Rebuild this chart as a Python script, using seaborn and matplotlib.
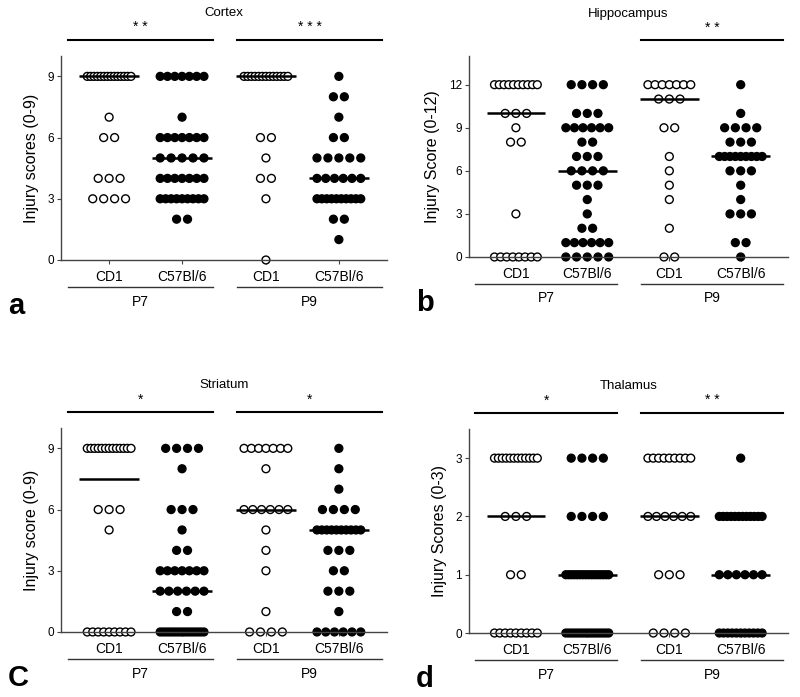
import numpy as np
import pandas as pd
import matplotlib
matplotlib.use('Agg')
import matplotlib.pyplot as plt
import seaborn as sns

groups = ['P7 CD1', 'P7 C57Bl/6', 'P9 CD1', 'P9 C57Bl/6']
tick_labels = ['CD1', 'C57Bl/6', 'CD1', 'C57Bl/6']
ages = ['P7', 'P9']

# number of animals at each score (list index = score)
cortex_p7_cd1 = [0, 0, 0, 4, 3, 0, 2, 1, 0, 14]
cortex_p7_c57 = [0, 0, 2, 9, 7, 5, 7, 1, 0, 7]
cortex_p9_cd1 = [1, 0, 0, 1, 2, 1, 2, 0, 0, 13]
cortex_p9_c57 = [0, 1, 2, 10, 6, 5, 2, 1, 2, 1]

hippo_p7_cd1 = [8, 0, 0, 1, 0, 0, 0, 0, 2, 1, 3, 0, 10]
hippo_p7_c57 = [5, 6, 2, 1, 1, 3, 4, 3, 2, 6, 3, 0, 4]
hippo_p9_cd1 = [2, 0, 1, 0, 1, 1, 1, 1, 0, 2, 0, 3, 7]
hippo_p9_c57 = [1, 2, 0, 3, 1, 1, 3, 9, 3, 4, 1, 0, 1]

striatum_p7_cd1 = [9, 0, 0, 0, 0, 1, 3, 0, 0, 13]
striatum_p7_c57 = [16, 2, 6, 7, 2, 1, 3, 0, 1, 4]
striatum_p9_cd1 = [4, 1, 0, 1, 1, 1, 6, 0, 1, 7]
striatum_p9_c57 = [6, 1, 3, 2, 3, 10, 4, 1, 1, 1]

thalamus_p7_cd1 = [9, 2, 3, 12]
thalamus_p7_c57 = [16, 16, 4, 4]
thalamus_p9_cd1 = [4, 3, 6, 9]
thalamus_p9_c57 = [11, 6, 12, 1]

plt.rcParams['font.family'] = ['Liberation Sans', 'DejaVu Sans']

xpos = [0, 1, 2.15, 3.15]


def expand(counts_list):
    rows = []
    for g, counts in zip(groups, counts_list):
        for score, n in enumerate(counts):
            rows += [(g, score)] * n
    df = pd.DataFrame(rows, columns=['group', 'score'])
    df['strain'] = df['group'].str.split(' ').str[1]
    # spread tied points sideways in rows, like a prism scatter dot plot
    off = np.zeros(len(df))
    for _, idx in df.groupby(['group', 'score']).groups.items():
        n = len(idx)
        if n > 1:
            step = min(0.15, 0.6 / (n - 1))
            off[np.asarray(idx)] = (np.arange(n) - (n - 1) / 2) * step
    df['x'] = df['group'].map(dict(zip(groups, xpos))) + off
    return df


panels = [
    dict(title='Cortex', counts=[cortex_p7_cd1, cortex_p7_c57, cortex_p9_cd1, cortex_p9_c57],
         ylim=10, yticks=[0, 3, 6, 9], ylabel='Injury scores (0-9)', stars=['* *', '* * *'],
         rect=[0.07625, 0.6270, 0.4075, 0.2927], letter='a'),
    dict(title='Hippocampus', counts=[hippo_p7_cd1, hippo_p7_c57, hippo_p9_cd1, hippo_p9_c57],
         ylim=14, yticks=[0, 3, 6, 9, 12], ylabel='Injury Score (0-12)', stars=[None, '* *'],
         rect=[0.586, 0.6313, 0.39875, 0.2884], letter='b'),
    dict(title='Striatum', counts=[striatum_p7_cd1, striatum_p7_c57, striatum_p9_cd1, striatum_p9_c57],
         ylim=10, yticks=[0, 3, 6, 9], ylabel='Injury score (0-9)', stars=['*', '*'],
         rect=[0.07625, 0.0933, 0.4075, 0.2927], letter='C'),
    dict(title='Thalamus', counts=[thalamus_p7_cd1, thalamus_p7_c57, thalamus_p9_cd1, thalamus_p9_c57],
         ylim=3.5, yticks=[0, 1, 2, 3], ylabel='Injury Scores (0-3)', stars=['*', '* *'],
         rect=[0.586, 0.0918, 0.39875, 0.2927], letter='d'),
]

fig = plt.figure(figsize=(8, 6.97), dpi=100)
spans = [(0.02, 0.465), (0.54, 0.985)]

for p in panels:
    ax = fig.add_axes(p['rect'])
    df = expand(p['counts'])
    sns.scatterplot(data=df, x='x', y='score', hue='strain',
                    palette={'CD1': 'white', 'C57Bl/6': 'black'},
                    edgecolor='black', linewidth=1.0, s=32, legend=False,
                    clip_on=False, zorder=2, ax=ax)
    med = df.groupby('group', sort=False)['score'].median().reindex(groups)
    ax.hlines(med.values, np.array(xpos) - 0.41, np.array(xpos) + 0.41,
              color='black', lw=1.8, zorder=3, clip_on=False)

    ax.set_xlim(-0.66, 3.81)
    ax.set_ylim(0, p['ylim'])
    ax.set_xticks(xpos)
    ax.set_xticklabels(tick_labels, fontsize=10)
    ax.set_yticks(p['yticks'])
    ax.tick_params(axis='y', labelsize=8.5, length=3, width=0.8, color='#444', pad=2)
    ax.tick_params(axis='x', length=3, width=0.8, color='#444', pad=4)
    ax.set_xlabel('')
    ax.set_ylabel(p['ylabel'], fontsize=11.5, labelpad=6)
    for side in ['top', 'right']:
        ax.spines[side].set_visible(False)
    for side in ['left', 'bottom']:
        ax.spines[side].set_color('#444')
        ax.spines[side].set_linewidth(1.0)

    ax.text(0.5, 1.21, p['title'], transform=ax.transAxes, ha='center', va='center', fontsize=9.5)
    for (x0, x1), star, age in zip(spans, p['stars'], ages):
        if star:
            ax.plot([x0, x1], [1.08, 1.08], transform=ax.transAxes, color='black', lw=1.5, clip_on=False)
            ax.text((x0 + x1) / 2, 1.14, star, transform=ax.transAxes, ha='center', va='center', fontsize=10)
        ax.plot([x0, x1], [-0.133, -0.133], transform=ax.transAxes, color='#333', lw=1.0, clip_on=False)
        ax.text((x0 + x1) / 2, -0.205, age, transform=ax.transAxes, ha='center', va='center', fontsize=10)

    fx = p['rect'][0] - 0.066
    fy = p['rect'][1] - 0.078
    fig.text(fx, fy, p['letter'], fontsize=21, fontweight='bold', ha='left', va='baseline')

fig.savefig('out.png', dpi=100)
